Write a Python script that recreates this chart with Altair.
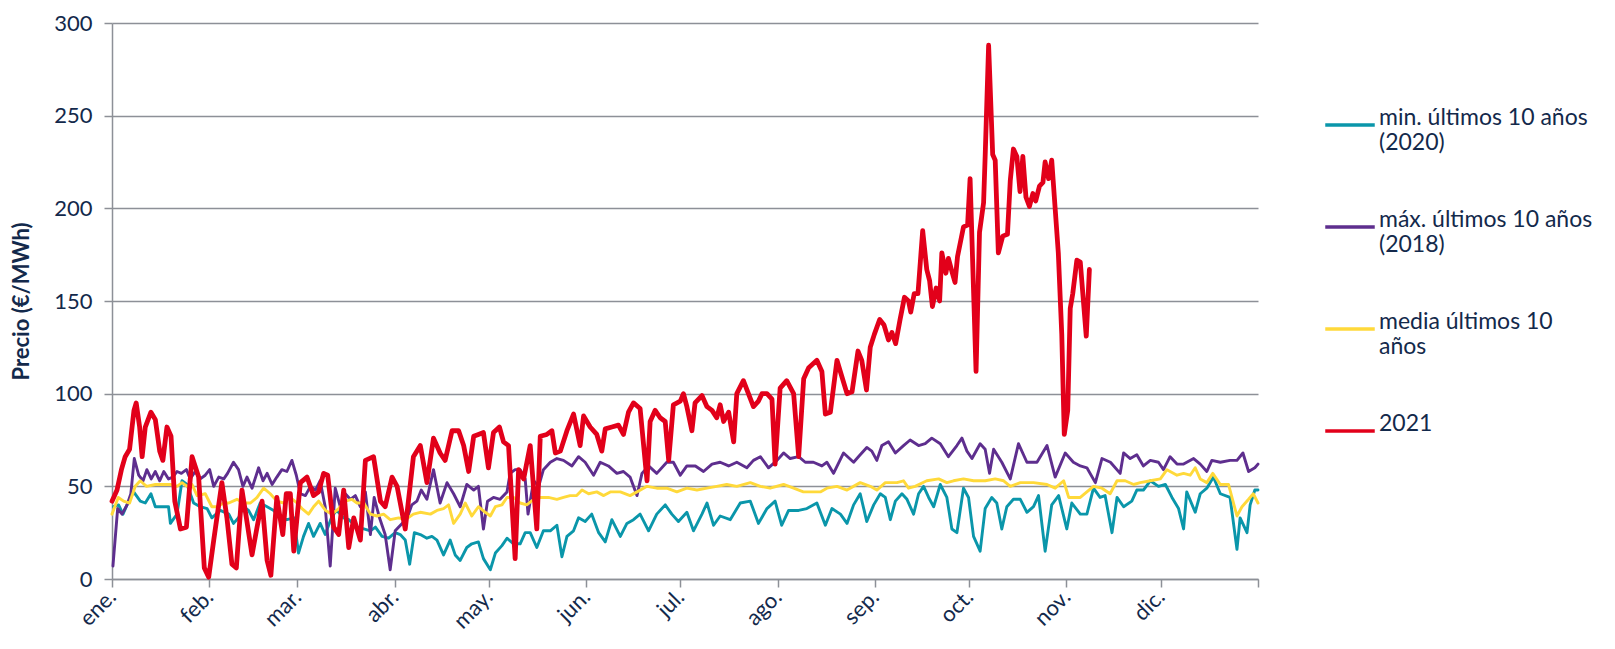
import altair as alt
import pandas as pd

# ---------------- data ----------------
SERIES = ["min. últimos 10 años|(2020)", "máx. últimos 10 años|(2018)", "media últimos 10|años", "2021"]
COLORS = ["#0A96AA", "#5E2E8E", "#FFD93A", "#E2001A"]
WIDTHS = [2.9, 2.9, 2.9, 4.8]

MONTH_DAYS = [0, 31, 59, 90, 120, 151, 181, 212, 243, 273, 304, 334, 365]
MONTH_LABELS = ["ene.", "feb.", "mar.", "abr.", "may.", "jun.", "jul.", "ago.", "sep.", "oct.", "nov.", "dic.", ""]

red_days = [0, 1.6, 3, 4.2, 5.6, 7, 7.7, 8.8, 9.6, 10.6, 12.4, 13.8, 15.2, 16.2, 17.5, 18.8, 20, 21.8, 23.7, 25.5,
            27.6, 29.4, 30.8, 32.4, 35, 36.6, 38.2, 39.6, 41.4, 42.8, 44.6, 46.2, 47.8, 49.4, 50.6, 52.5, 54.4, 55.5,
            56.8, 57.9, 60, 62.1, 64.2, 65.8, 67.4, 68.7, 70.6, 72.2, 73.8, 75.4, 77, 79.1, 80.7, 83.3, 85.5, 87,
            89.2, 90.8, 93.4, 96, 98.2, 100.3, 102.4, 104.5, 106.1, 108.3, 110.4, 112, 113.6, 115.2, 116.7, 118.3,
            119.9, 121.5, 123.4, 124.7, 126.3, 128.4, 129.5, 131.1, 133.2, 135.3, 136.4, 138.5, 140.1, 141.2, 142.8,
            144.9, 147, 149.1, 150.2, 152.3, 154.4, 156, 157.1, 159.2, 161.3, 162.9, 164.5, 166.1, 168.2, 170.4,
            171.4, 173, 174.6, 176.2, 177.3, 178.8, 181, 182, 183.1, 184.7, 185.7, 187.9, 189.5, 191.1, 192.6, 193.7,
            194.8, 196.4, 198, 199, 201.1, 202.7, 204.3, 205.9, 207, 208.6, 210.2, 211.2, 212.8, 214.9, 217.1, 218.7,
            220.3, 221.9, 224.5, 226.1, 227.2, 228.8, 230.9, 232.5, 234.1, 235.7, 237.6, 238.8, 240.3, 241.5, 242.8,
            244.5, 245.9, 247.3, 248.4, 249.6, 251, 252.4, 253.7, 254.4, 255.5, 256.7, 258.2, 259.5, 260.4, 261.3,
            262.5, 263.6, 264.3, 265.6, 266.4, 267.5, 268.5, 269.3, 271.2, 272.5, 273.3, 275.2, 276.3, 277.6, 278.1,
            279.2, 280.5, 281.3, 282.3, 283.7, 285.2, 286.1, 287.1, 288.2, 289.2, 290.1, 291.1, 292.2, 293.3, 294.2,
            295.4, 296.5, 297.2, 298.3, 299.3, 301.4, 302.5, 303.3, 304.4, 305.2, 306, 307.3, 308.4, 310.3, 311.3]
red_vals = [42, 48, 59, 66, 70, 91, 95, 82, 66, 82, 90, 86, 69, 64, 82, 77, 42, 27, 28, 66,
            55, 6, 1, 21, 52, 33, 8, 6, 48, 33, 13, 28, 42, 10, 2, 44, 24, 46,
            46, 15, 52, 55, 45, 47, 57, 56, 28, 24, 48, 17, 33, 21, 64, 66, 42, 39,
            55, 50, 27, 66, 72, 52, 76, 68, 64, 80, 80, 72, 58, 77, 78, 79,
            60, 79, 82, 74, 72, 11, 59, 54, 72, 27, 77, 78, 80, 68, 69,
            80, 89, 72, 88, 82, 78, 69, 81, 82, 83, 78, 90, 95, 92, 53,
            85, 91, 87, 85, 64, 94, 96, 100, 93, 80, 95, 99, 93, 91, 87, 94,
            85, 90, 74, 100, 107, 100, 93, 96, 100, 100, 97, 62, 103, 107, 100, 66,
            108, 114, 118, 112, 89, 90, 118, 109, 100, 101, 123, 118, 102, 125, 132,
            140, 137, 129, 133, 127, 140, 152, 150, 144, 154, 154, 188, 167, 161, 147,
            157, 150, 176, 165, 173, 166, 160, 174, 190, 191, 216, 112, 187, 203, 228,
            288, 229, 226, 176, 185, 186, 215, 232, 228, 209, 228, 206, 201, 208, 204,
            212, 214, 225, 216, 226, 176, 132, 78, 91, 146, 154, 172, 171, 131, 167]

max_days = [0.3, 1.8, 3.2, 4.8, 6, 7.1, 8.5, 9.9, 11.1, 12.5, 13.8, 15.2, 16.5, 18, 19.4, 20.7, 22.1, 23.7, 24.9,
            26.5, 28.1, 29.7, 31.1, 32.4, 34, 35.6, 36.8, 38.7, 40.3, 41.7, 43, 44.6, 46.7, 48.1, 49.4, 51, 52.5,
            54.1, 55.7, 57.3, 58.7, 60, 61.6, 63.2, 64.8, 66.3, 67.9, 69.5, 71.1, 72.7, 74.3, 75.9, 77.5, 79.1, 80.7,
            82.3, 83.5, 85.2, 87, 88.6, 90.2, 92.4, 94, 95.5, 97.1, 98.5, 100.3, 102.4, 104.5, 106.7, 108.8, 110.9,
            113, 115.2, 116.7, 118.3, 119.6, 121.5, 123.6, 125.8, 126.8, 128.4, 130, 131.6, 132.5, 134.3, 135.9,
            137.4, 139.6, 141.7, 143.8, 146.5, 148.6, 150.7, 153.4, 155.5, 158.1, 160.8, 162.9, 165, 167.2, 168.8,
            170.9, 173.5, 176.7, 178.8, 181, 183.1, 185.8, 188.4, 191.1, 193.7, 196.4, 199, 202.2, 204.3, 206.5,
            209.1, 211.8, 213.9, 216, 218.7, 220.8, 223.4, 226.1, 227.7, 229.8, 233, 236.2, 238.3, 240.4, 242, 243.6,
            245.2, 247.3, 249.5, 252.1, 254.2, 256.9, 259, 261.1, 263.8, 266.4, 269.1, 270.7, 272.3, 273.9, 276.5,
            278.1, 279.5, 280.8, 283.4, 286.1, 288.7, 291.4, 294.6, 297.8, 300.4, 303.6, 306.2, 308.4, 310.5, 313.2,
            315.3, 318, 321.1, 322.2, 324.3, 326.4, 328.5, 330.7, 333.3, 334.9, 337, 339.2, 341.3, 344.5, 346.6,
            348.7, 350.3, 353, 356.1, 358.3, 360.2, 362, 364, 365]
max_vals = [7, 38, 35, 40, 46, 65, 56, 53, 59, 54, 58, 53, 58, 54, 55, 58, 57, 59, 54,
            58, 54, 56, 59, 50, 55, 54, 57, 63, 59, 50, 55, 49, 60, 53, 57, 51, 55,
            59, 58, 64, 56, 46, 45, 50, 48, 53, 39, 7, 49, 39, 46, 43, 45, 39, 47,
            24, 44, 33, 24, 5, 26, 30, 33, 40, 42, 48, 43, 59, 41, 52, 46, 39,
            51, 48, 50, 27, 42, 44, 43, 47, 57, 59, 59, 54, 35, 53, 50,
            59, 63, 65, 64, 61, 66, 63, 56, 63, 61, 57, 58, 55, 45, 57,
            61, 57, 63, 63, 56, 61, 61, 58, 62, 63, 61, 63, 60, 64, 66,
            60, 64, 68, 65, 66, 63, 63, 61, 63, 57, 68, 63, 67, 71, 69, 64,
            72, 74, 68, 72, 75, 72, 73, 76, 73, 66, 72, 76, 69, 65, 73,
            70, 57, 70, 63, 54, 73, 63, 63, 72, 55, 68, 63, 61, 60, 52,
            65, 63, 57, 68, 65, 67, 61, 64, 63, 59, 66, 62, 62, 65, 62,
            58, 64, 63, 64, 64, 68, 58, 60, 62]

avg_days = [0, 2, 3.7, 5.6, 7.4, 9, 11, 13.8, 16.5, 18.6, 20.7, 22.3, 23.9, 25.5, 27.1, 29.7, 31.8, 33.4, 35.6,
            37.2, 39.8, 41.9, 44.1, 46.2, 48.3, 50.4, 52.5, 54.7, 56.8, 58.9, 60.5, 62.6, 64.2, 65.8, 68, 70.1,
            72.2, 74.3, 76.4, 78, 80.2, 82.3, 84.4, 86.5, 88.6, 91.3, 93.4, 96, 98.2, 101.4, 103.5, 105.6, 107.2,
            108.8, 110.9, 112.5, 114.6, 116.7, 118.9, 120.5, 122.1, 124.2, 125.8, 127.9, 130, 132.1, 134.3, 136.4,
            139, 141.7, 143.8, 145.9, 148, 149.7, 151.8, 154.4, 156.6, 158.7, 161.9, 165, 167.2, 170.4, 173.5,
            176.7, 179.9, 183.1, 186.3, 189.5, 192.6, 195.8, 199, 203.3, 206.5, 209.6, 213.9, 217.1, 220.2, 222.4,
            225.6, 227.7, 230.9, 234.1, 238.3, 241.5, 243.6, 246.3, 250, 252.1, 253.7, 255.8, 259.5, 263.3, 265.9,
            268, 271.2, 274.4, 278.1, 281.3, 284, 286.1, 289.3, 293.5, 297.8, 300.4, 303.1, 304.7, 306.2, 308.4,
            310.5, 312.6, 315.3, 317.9, 320.1, 322.7, 325.4, 327.5, 330.7, 333.9, 336, 339.2, 341.3, 343.4, 345,
            346.6, 348.7, 350.6, 353, 355.6, 358.3, 359.9, 362, 363.5, 365]
avg_vals = [35, 44, 42, 41, 50, 53, 50, 51, 51, 51, 50, 52, 50, 51, 45, 46, 39, 39, 41,
            41, 43, 41, 41, 44, 49, 46, 42, 41, 44, 41, 38, 35, 39, 42, 37, 35,
            38, 42, 43, 41, 41, 35, 34, 35, 32, 33, 32, 35, 36, 35, 37, 38, 40,
            30, 35, 41, 34, 39, 36, 34, 39, 40, 44, 44, 41, 40, 43, 44,
            44, 43, 44, 45, 45, 48, 46, 47, 45, 47, 47, 45, 47, 50, 49,
            49, 47, 49, 48, 49, 50, 51, 50, 52, 50, 49, 51, 49, 47, 47,
            47, 49, 50, 48, 52, 50, 48, 52, 52, 53, 49, 50, 53, 54, 52,
            53, 54, 53, 53, 54, 53, 50, 52, 52, 51, 49, 53, 44, 44, 44,
            47, 50, 49, 46, 53, 53, 51, 52, 53, 54, 59, 56, 57, 56, 60,
            54, 52, 57, 51, 51, 34, 39, 43, 46, 41]

min_days = [0.5, 2.1, 3.5, 5.3, 6.9, 9, 10.6, 12.4, 13.8, 15.9, 18, 18.6, 20.7, 22.3, 23.9, 26, 28.1, 30.3, 31.8,
            34.5, 37.2, 38.7, 40.3, 41.9, 43.5, 45.1, 47.2, 49.4, 51.5, 53.6, 55.7, 57.9, 59.4, 61, 62.6, 64.2, 66.3,
            67.9, 70.1, 71.6, 73.8, 75.4, 78, 80.2, 82.3, 83.9, 86, 88.1, 90.2, 91.8, 93.4, 94.8, 96.3, 98.2, 100.3,
            101.9, 103.5, 105.6, 107.7, 109.3, 110.9, 113, 114.6, 116.7, 118.3, 120.5, 122.1, 124.2, 125.8, 127.9,
            130, 131.6, 133.2, 135.3, 137.4, 139.6, 141.7, 143.3, 144.9, 147, 148.6, 150.7, 152.8, 155, 157.1, 159.2,
            161.9, 164, 166.1, 168.2, 170.9, 173.5, 176.2, 178.3, 180.4, 183.1, 185.2, 187.9, 189.5, 191.6, 193.7,
            196.9, 200.1, 203.3, 205.9, 208.6, 211.2, 213.3, 215.5, 218.7, 221.3, 224.5, 227.2, 229.3, 232, 234.1,
            236.2, 238.3, 240.4, 242.6, 244.7, 246.3, 247.9, 249.5, 251.6, 253.2, 255.3, 256.9, 258.5, 260.1, 261.7,
            263.8, 265.9, 267.5, 269.1, 271.2, 272.8, 274.4, 276.5, 278.1, 280.2, 281.8, 283.4, 285, 287.1, 289.3,
            291.4, 293.5, 295.1, 297.2, 299.3, 301.5, 304.1, 305.7, 308.4, 310.5, 312.6, 314.7, 316.3, 318.5, 320.1,
            322.2, 324.8, 326.4, 328.5, 330.7, 333.3, 335.5, 337.6, 339.7, 341.3, 342.3, 345, 346.6, 348.7, 350.8,
            353, 356.1, 358.3, 359.3, 361.5, 362.5, 364, 365]
min_vals = [39, 40, 35, 42, 47, 42, 41, 46, 39, 39, 39, 30, 35, 53, 51, 41, 39, 38, 33,
            37, 35, 30, 33, 39, 37, 32, 41, 39, 37, 33, 32, 33, 14, 23, 30, 23, 30,
            24, 34, 37, 33, 32, 28, 27, 26, 28, 23, 22, 25, 24, 21, 8, 25, 24, 22,
            23, 21, 13, 21, 13, 10, 17, 19, 20, 11, 5, 14, 18, 22, 19,
            19, 25, 25, 17, 26, 26, 29, 12, 23, 26, 33, 31, 35, 25, 20, 32,
            23, 30, 32, 35, 26, 35, 40, 35, 31, 36, 26, 35, 41, 29, 34,
            32, 41, 42, 30, 38, 42, 29, 37, 37, 38, 41, 29, 38, 35, 30,
            40, 46, 31, 40, 46, 44, 32, 42, 46, 43, 35, 46, 50, 44, 39,
            51, 44, 27, 25, 49, 44, 23, 15, 38, 44, 41, 27, 39, 43, 43,
            36, 39, 45, 15, 40, 45, 27, 41, 35, 35, 49, 44, 45, 25, 44,
            39, 42, 48, 48, 53, 50, 51, 44, 38, 27, 47, 36, 46, 49, 55,
            46, 44, 16, 33, 25, 40, 48, 48]

# ---------------- table ----------------
frames = []
for name, d, v in [(SERIES[0], min_days, min_vals), (SERIES[1], max_days, max_vals),
                   (SERIES[2], avg_days, avg_vals), (SERIES[3], red_days, red_vals)]:
    frames.append(pd.DataFrame({"day": d, "value": v, "series": name}))
df = pd.concat(frames, ignore_index=True)

NAVY = "#13294B"
GRID = "#8D9097"
FONT = "Lato"

label_expr = ("[" + ",".join("'%s'" % m for m in MONTH_LABELS) + "][indexof(["
              + ",".join(str(m) for m in MONTH_DAYS) + "], datum.value)]")

legend = alt.Legend(
    title=None, orient="none", legendX=1211, legendY=75,
    labelExpr="split(datum.label, '|')", labelFont=FONT, labelFontSize=23,
    labelColor=NAVY, labelLimit=500, labelOffset=2, labelBaseline="alphabetic",
    symbolType="stroke", symbolSize=2450, symbolStrokeWidth=3.6, rowPadding=45, padding=0,
)

x_enc = alt.X("day:Q", scale=alt.Scale(domain=[0, 365], nice=False, zero=False),
              axis=alt.Axis(values=MONTH_DAYS, labelExpr=label_expr, labelAngle=-45,
                            labelAlign="right", labelBaseline="middle", labelPadding=6,
                            labelOverlap=False, labelFont=FONT, labelFontSize=22,
                            labelColor=NAVY, grid=False, tickSize=8, tickWidth=1.5,
                            tickColor=GRID, domainColor=GRID, domainWidth=1.5, title=None))
y_enc = alt.Y("value:Q", scale=alt.Scale(domain=[0, 300], nice=False),
              axis=alt.Axis(values=list(range(0, 301, 50)), grid=True, gridColor=GRID,
                            gridWidth=1.5, tickSize=8, tickWidth=1.5, tickColor=GRID,
                            domainColor=GRID, domainWidth=1.5, labelFont=FONT,
                            labelFontSize=22, labelColor=NAVY, labelPadding=12,
                            title="Precio (€/MWh)", titleFont=FONT, titleFontSize=22,
                            titleFontWeight="bold", titleColor=NAVY, titlePadding=20))
color_enc = alt.Color("series:N", scale=alt.Scale(domain=SERIES, range=COLORS), legend=legend)

layers = []
for name, w in zip(SERIES, WIDTHS):
    layers.append(
        alt.Chart(df).transform_filter(alt.datum.series == name)
        .mark_line(strokeJoin="round", strokeCap="round", strokeWidth=w)
        .encode(x=x_enc, y=y_enc, color=color_enc, order="day:Q")
    )

chart = (
    alt.layer(*layers)
    .properties(width=1146, height=556, autosize=alt.AutoSizeParams(type="none"),
                padding={"left": 104, "top": 15, "right": 349, "bottom": 60})
    .configure_view(strokeWidth=0)
)

chart.save("out.html", embed_options={"renderer": "svg", "actions": False})
